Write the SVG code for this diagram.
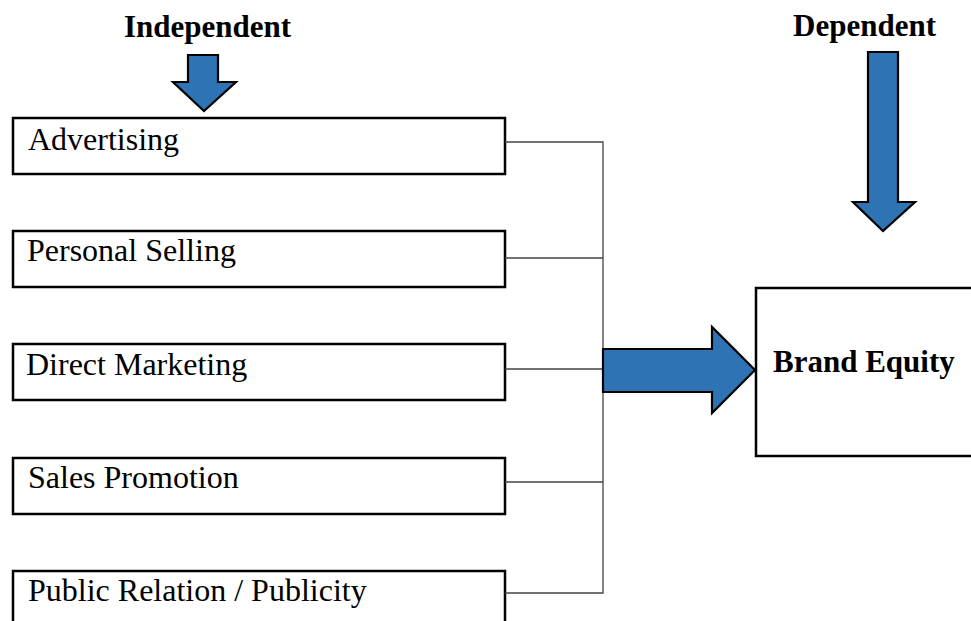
<svg xmlns="http://www.w3.org/2000/svg" width="971" height="621" viewBox="0 0 971 621">
<style>
.box{fill:#fff;stroke:#000;stroke-width:2.5}
.lbl{font-family:"Liberation Serif","Times New Roman",serif;font-size:32px;fill:#000}
.bold{font-weight:bold;font-size:31px}
.arrow{fill:#2E74B5;stroke:#000;stroke-width:2.2;stroke-linejoin:miter}
.conn{fill:none;stroke:#444;stroke-width:1.3}
</style>
<rect width="971" height="621" fill="#fff"/>
<g id="header-independent">
<text class="lbl bold" x="124" y="37">Independent</text>
<polygon class="arrow" points="188,55 218,55 218,82 236,82 204,111 173,82 188,82"/>
</g>
<g id="header-dependent">
<text class="lbl bold" x="793" y="36">Dependent</text>
<polygon class="arrow" points="868,52 898,52 898,202 915,202 883,231 853,202 868,202"/>
</g>
<g id="node-advertising">
<rect class="box" x="13" y="118" width="492" height="56"/>
<text class="lbl" x="28" y="150">Advertising</text>
</g>
<g id="node-personal-selling">
<rect class="box" x="13" y="231" width="492" height="56"/>
<text class="lbl" x="27" y="261">Personal Selling</text>
</g>
<g id="node-direct-marketing">
<rect class="box" x="13" y="344" width="492" height="56"/>
<text class="lbl" x="26" y="375">Direct Marketing</text>
</g>
<g id="node-sales-promotion">
<rect class="box" x="13" y="458" width="492" height="56"/>
<text class="lbl" x="28" y="488">Sales Promotion</text>
</g>
<g id="node-public-relation">
<rect class="box" x="13" y="571" width="492" height="60"/>
<text class="lbl" x="28" y="601">Public Relation / Publicity</text>
</g>
<g id="node-brand-equity">
<rect class="box" x="756" y="288" width="230" height="168"/>
<text class="lbl bold" x="773" y="372">Brand Equity</text>
</g>
<g id="connectors">
<path class="conn" d="M505,142 H603 V593 H505 M505,258 H603 M505,369 H603 M505,482 H603"/>
<polygon class="arrow" points="603,349 712,349 712,327 755,370 712,413 712,392 603,392"/>
</g>
</svg>
